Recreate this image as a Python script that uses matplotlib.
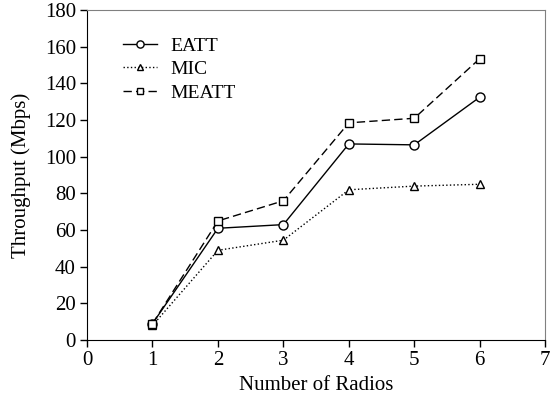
import matplotlib
matplotlib.use('Agg')
import matplotlib.pyplot as plt

# datos
radios = [1, 2, 3, 4, 5, 6]
eatt = [9, 61, 63, 107, 106.5, 132.5]
mic = [8, 49, 54.5, 82, 84, 85]
meatt = [9, 65, 76, 118.5, 121, 153.5]

plt.rcParams['font.family'] = ['Liberation Serif', 'DejaVu Serif']

fig = plt.figure(figsize=(5.58, 4.03), dpi=100)
ax = fig.add_axes([0.156, 0.156, 0.821, 0.819])

ax.plot(radios, eatt, '-', color='black', lw=1, marker='o', ms=6.5,
        mfc='white', mec='black', mew=1, label='EATT')
ax.plot(radios, mic, ':', color='black', lw=1, marker='^', ms=5.5,
        mfc='white', mec='black', mew=1, label='MIC')
ax.plot(radios, meatt, '--', color='black', lw=1, dashes=(6, 3), marker='s', ms=6,
        mfc='white', mec='black', mew=1, label='MEATT')

ax.set_xlim(0, 7)
ax.set_ylim(0, 180)
ax.set_xticks(range(0, 8))
ax.set_yticks(range(0, 181, 20))
ax.tick_params(direction='out', labelsize=15, length=5, width=1, pad=3)
ax.set_xlabel('Number of Radios', fontsize=15, labelpad=4)
ax.set_ylabel('Throughput (Mbps)', fontsize=15, labelpad=10)

ax.spines['top'].set_color('#808080')
ax.spines['right'].set_color('#808080')

ax.legend(loc='upper left', frameon=False, fontsize=14, handlelength=1.75,
          handletextpad=0.65, markerscale=0.8,
          bbox_to_anchor=(0.079, 0.918), borderaxespad=0, borderpad=0,
          labelspacing=0.3)

fig.savefig('out.png', dpi=100)
